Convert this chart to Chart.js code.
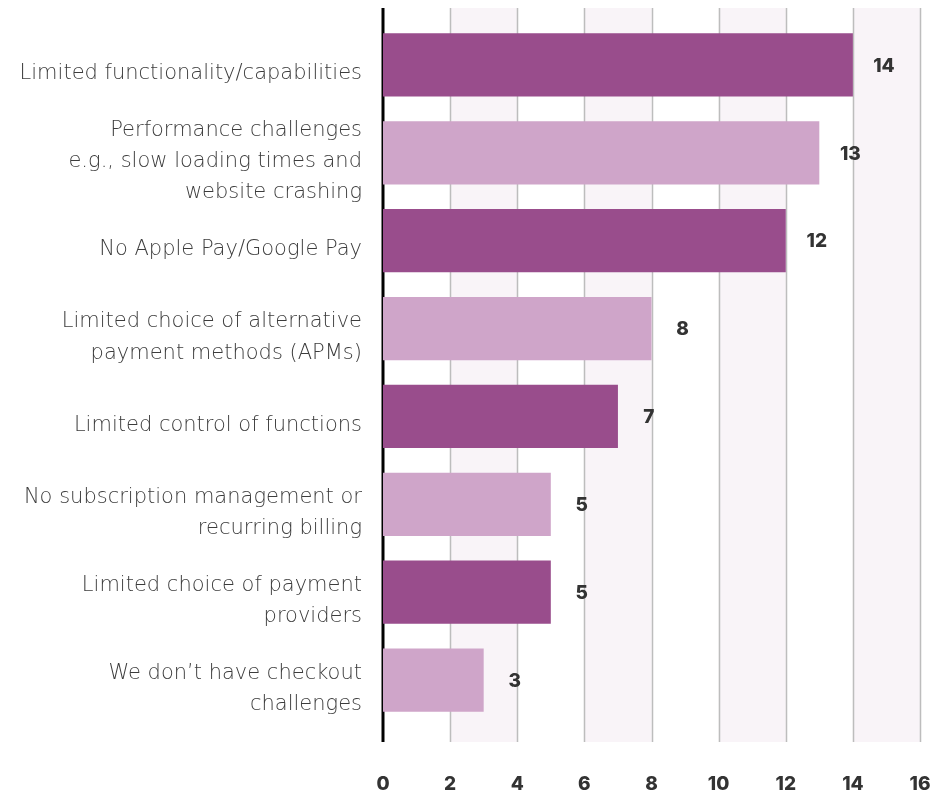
<!DOCTYPE html>
<html>
<head>
<meta charset="utf-8">
<script src="https://cdn.jsdelivr.net/npm/chart.js@4/dist/chart.umd.min.js"></script>
<style>
    html, body { margin: 0; padding: 0; background: #fff; }
    #wrap { width: 944px; height: 794px; }
</style>
</head>
<body>
<div id="wrap"><canvas id="challenges-chart"></canvas></div>
<script>
var categories = [
    "Limited functionality/capabilities",
    ["Performance challenges", "e.g., slow loading times and", "website crashing"],
    "No Apple Pay/Google Pay",
    ["Limited choice of alternative", "payment methods (APMs)"],
    "Limited control of functions",
    ["No subscription management or", "recurring billing"],
    ["Limited choice of payment", "providers"],
    ["We don\u2019t have checkout", "challenges"]
];
var values = [14, 13, 12, 8, 7, 5, 5, 3];
var xTicks = [0, 2, 4, 6, 8, 10, 12, 14, 16];

var dark = "#994D8C";
var light = "#CFA5C9";
var barColors = values.map(function (v, i) { return i % 2 === 0 ? dark : light; });
var boldFont = "Inter, 'Open Sans', sans-serif";

// bands, gridlines and the zero line run a little past the bars top and bottom
var backdrop = {
    id: "backdrop",
    beforeDatasetsDraw: function (chart) {
        var ctx = chart.ctx;
        var x = chart.scales.x;
        var top = chart.chartArea.top - 13;
        var bottom = chart.chartArea.bottom + 18;
        ctx.save();
        ctx.fillStyle = "#F9F4F8";
        for (var i = 2; i < 16; i += 4) {
            var a = x.getPixelForValue(i), b = x.getPixelForValue(i + 2);
            ctx.fillRect(a, top, b - a, bottom - top);
        }
        ctx.strokeStyle = "#BDBDBD";
        ctx.lineWidth = 1.5;
        xTicks.slice(1).forEach(function (t) {
            var px = Math.round(x.getPixelForValue(t)) + 0.5;
            ctx.beginPath();
            ctx.moveTo(px, top);
            ctx.lineTo(px, bottom);
            ctx.stroke();
        });
        ctx.strokeStyle = "#000";
        ctx.lineWidth = 3;
        var zero = x.getPixelForValue(0);
        ctx.beginPath();
        ctx.moveTo(zero, top);
        ctx.lineTo(zero, bottom);
        ctx.stroke();
        ctx.restore();
    }
};

var valueLabels = {
    id: "valueLabels",
    afterDatasetsDraw: function (chart) {
        var ctx = chart.ctx;
        ctx.save();
        ctx.font = "800 19px " + boldFont;
        ctx.fillStyle = "#333333";
        ctx.textAlign = "center";
        ctx.textBaseline = "middle";
        chart.getDatasetMeta(0).data.forEach(function (bar, i) {
            ctx.fillText(values[i], bar.x + 31, bar.y + 1);
        });
        ctx.restore();
    }
};

new Chart(document.getElementById("challenges-chart"), {
    type: "bar",
    data: {
        labels: categories,
        datasets: [{
            data: values,
            backgroundColor: barColors,
            borderWidth: 0,
            barPercentage: 0.72,
            categoryPercentage: 1
        }]
    },
    options: {
        indexAxis: "y",
        responsive: true,
        maintainAspectRatio: false,
        animation: false,
        layout: {
            padding: { top: 21, right: 24, bottom: 0, left: 0 }
        },
        plugins: {
            legend: { display: false },
            tooltip: { enabled: false }
        },
        scales: {
            x: {
                min: 0,
                max: 16,
                afterBuildTicks: function (axis) {
                    axis.ticks = xTicks.map(function (v) { return { value: v }; });
                },
                afterFit: function (axis) {
                    axis.height = 70;
                    axis.paddingLeft = 0;
                    axis.paddingRight = 0;
                },
                grid: { display: false, drawTicks: false },
                border: { display: false },
                ticks: {
                    padding: 49,
                    maxRotation: 0,
                    color: "#333333",
                    font: { family: boldFont, size: 19, weight: "800" }
                }
            },
            y: {
                afterFit: function (axis) {
                    axis.width = 383;
                    axis.paddingTop = 0;
                    axis.paddingBottom = 0;
                },
                grid: { display: false, drawTicks: false },
                border: { display: false },
                ticks: {
                    autoSkip: false,
                    padding: 21,
                    labelOffset: 9,
                    color: "#3c3c3c",
                    font: { family: "'DejaVu Sans', sans-serif", size: 21, weight: "300", lineHeight: 1.48 }
                }
            }
        }
    },
    plugins: [backdrop, valueLabels]
});
</script>
</body>
</html>
